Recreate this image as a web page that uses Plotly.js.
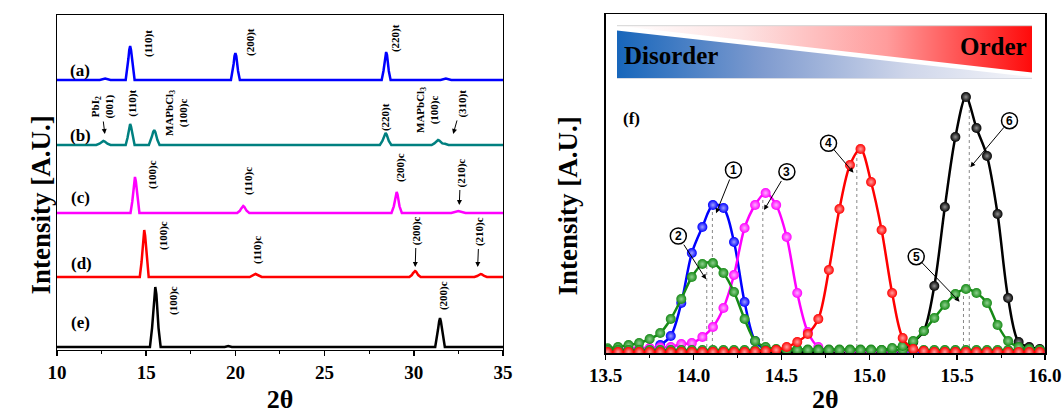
<!DOCTYPE html>
<html><head><meta charset="utf-8">
<script src="https://cdn.plot.ly/plotly-3.0.1.min.js"></script>
<style>html,body{margin:0;padding:0;background:#fff}#chart{width:1063px;height:414px}</style>
</head><body><div id="chart"></div>
<script>
// ---------- Left panel: XRD patterns (intensity above each pattern's own baseline) ----------
const patternLabels = ['(a)', '(b)', '(c)', '(d)', '(e)'];
const patternOffsets = [270, 205, 137, 73, 3];
const patternColors = ['#0000ff', '#008080', '#ff00ff', '#ff0000', '#000000'];

const aX = [10, 12.4, 12.7, 13.0, 13.85, 13.95, 14.0, 14.05, 14.1, 14.15, 14.2, 14.25, 14.35, 19.75, 19.85, 19.9, 19.95, 20.0, 20.05, 20.1, 20.15, 20.25, 28.2, 28.3, 28.35, 28.4, 28.45, 28.5, 28.55, 28.6, 28.7, 31.5, 31.8, 32.1, 35];
const aY = [0, 0, 1.5, 0, 0, 11, 21, 30, 34, 30, 21, 11, 0, 0, 9, 16, 24, 27, 24, 16, 9, 0, 0, 9, 17, 25, 28, 25, 17, 9, 0, 0, 1.5, 0, 0];

const bX = [10, 12.2, 12.38, 12.45, 12.53, 12.6, 12.68, 12.75, 12.83, 13.0, 13.85, 13.95, 14.0, 14.05, 14.1, 14.15, 14.2, 14.25, 14.35, 15.15, 15.27, 15.33, 15.39, 15.45, 15.51, 15.57, 15.63, 15.75, 28.1, 28.24, 28.3, 28.36, 28.42, 28.48, 28.54, 28.6, 28.74, 31.0, 31.15, 31.22, 31.29, 31.36, 31.43, 31.5, 31.6, 31.75, 31.95, 35];
const bY = [0, 0, 1.3, 2.4, 3.5, 4, 3.5, 2.4, 1.3, 0, 0, 7, 13, 18.5, 21, 18.5, 13, 7, 0, 0, 5, 9, 13, 15, 13, 9, 5, 0, 0, 4, 7, 10.5, 12, 10.5, 7, 4, 0, 0, 1.6, 3, 4.4, 5, 4.4, 3, 1.6, 1.2, 0, 0];

const cX = [10, 14.12, 14.22, 14.27, 14.32, 14.37, 14.42, 14.47, 14.52, 14.62, 20.1, 20.25, 20.32, 20.38, 20.44, 20.5, 20.56, 20.63, 20.78, 28.75, 28.88, 28.94, 28.99, 29.04, 29.09, 29.14, 29.2, 29.33, 32.1, 32.5, 32.9, 35];
const cY = [0, 0, 11.5, 22, 31.7, 36, 31.7, 22, 11.5, 0, 0, 2.2, 4.3, 6.2, 7, 6.2, 4.3, 2.2, 0, 0, 6.7, 12.8, 18.5, 21, 18.5, 12.8, 6.7, 0, 0, 2, 0, 0];

const dX = [10, 14.64, 14.74, 14.79, 14.84, 14.89, 14.94, 14.99, 15.04, 15.14, 20.8, 20.95, 21.02, 21.08, 21.13, 21.19, 21.25, 21.32, 21.48, 29.75, 29.89, 29.95, 30.01, 30.07, 30.13, 30.19, 30.25, 30.39, 33.4, 33.55, 33.62, 33.68, 33.75, 33.82, 33.88, 33.95, 34.1, 35];
const dY = [0, 0, 15, 28.7, 41.4, 47, 41.4, 28.7, 15, 0, 0, 1, 1.8, 2.6, 3, 2.6, 1.8, 1, 0, 0, 1.9, 3.7, 5.3, 6, 5.3, 3.7, 1.9, 0, 0, 1, 1.8, 2.6, 3, 2.6, 1.8, 1, 0, 0];

const eX = [10, 15.21, 15.33, 15.39, 15.45, 15.51, 15.57, 15.63, 15.69, 15.81, 19.4, 19.6, 19.8, 31.2, 31.3, 31.36, 31.42, 31.47, 31.52, 31.58, 31.64, 31.74, 35];
const eY = [0, 0, 19.2, 36.6, 52.8, 60, 52.8, 36.6, 19.2, 0, 0, 1, 0, 0, 9.3, 17.7, 25.5, 29, 25.5, 17.7, 9.3, 0, 0];

const patternsX = [aX, bX, cX, dX, eX];
const patternsY = [aY, bY, cY, dY, eY];

// ---------- Right panel: (100) peak region, measured points ----------
const twoTheta = [13.51, 13.57, 13.63, 13.69, 13.75, 13.81, 13.87, 13.93, 13.99, 14.05, 14.11, 14.17, 14.23, 14.29, 14.35, 14.41, 14.47, 14.53, 14.59, 14.65, 14.71, 14.77, 14.83, 14.89, 14.95, 15.01, 15.07, 15.13, 15.19, 15.25, 15.31, 15.37, 15.43, 15.49, 15.55, 15.61, 15.67, 15.73, 15.79, 15.85, 15.91, 15.97];
const int1 = [0, 0, 0.5, 1, 3, 8, 17, 50, 100, 126, 148, 145, 111, 51, 12, 4, 2, 1, 1, 1, 1, 1, 1, 1, 1, 1, 1, 1, 1, 1, 1, 1, 1, 1, 1, 1, 1, 1, 1, 1, 1, 1];
const int2 = [4.7, 6, 8, 10, 14, 20, 34, 54, 76, 89, 90, 80, 61, 34, 12, 6, 4, 4, 4, 3.5, 3.5, 3.5, 3.5, 3.5, 3.5, 3.5, 3, 3, 3, 3, 3, 3, 3, 3, 3, 3, 3, 3, 3, 3, 3, 3];
const int3 = [4, 4, 4.5, 5, 5, 5.5, 6, 9, 10, 16, 26, 45, 78, 125, 148, 160, 148, 116, 60, 21, 6, 3, 2.5, 2, 2, 2, 2, 2, 2, 2, 2, 2, 2, 2, 2, 2, 2, 2, 2, 2, 2, 2];
const int4 = [1, 1, 1, 1, 1, 1, 1, 1, 1, 1, 1, 1, 1, 1, 1.5, 2, 3, 6, 11, 19, 34, 83, 144, 188, 204, 171, 123, 60, 15, 4, 2, 1, 1, 1, 1, 1, 1, 1, 1, 1, 1, 1];
const int5 = [3, 3, 3, 3, 3, 3, 3, 3, 3, 3, 3, 3, 3, 3, 3, 3, 3, 3, 3, 3, 3, 3, 3, 3, 3, 3, 3, 5, 7, 12, 22, 35, 48, 59, 64, 60, 50, 28, 12, 6, 4, 3];
const int6 = [0.5, 0.5, 0.5, 0.5, 0.5, 0.5, 0.5, 0.5, 0.5, 0.5, 0.5, 0.5, 0.5, 0.5, 0.5, 0.5, 0.5, 0.5, 0.5, 0.5, 0.5, 0.5, 0.5, 0.5, 0.5, 0.5, 0.5, 1, 3, 11, 22, 67, 146, 216, 256, 225, 197, 139, 55, 11, 6, 4];
const sampleNames = ['1', '2', '3', '4', '5', '6'];
const sampleInts = [int1, int2, int3, int4, int5, int6];
const sampleColors = ['#0000ff', '#168a16', '#ff00ff', '#ff0000', '#168a16', '#000000'];
const sampleHighlights = ['#a0a0ff', '#8fd08f', '#ffb0ff', '#ffa0a0', '#8fd08f', '#909090'];
const fitCenters = [14.107, 14.075, 14.394, 14.929, 15.536, 15.569];
const fitPeaks = [148, 91, 160, 204, 65, 258];

// ---------- traces ----------
const traces = [];
for (let i = 0; i < patternsX.length; i++) {
  traces.push({
    x: patternsX[i], y: patternsY[i].map(v => v + patternOffsets[i]),
    xaxis: 'x', yaxis: 'y', type: 'scatter', mode: 'lines',
    line: {color: patternColors[i], width: 2.5}, name: patternLabels[i], hoverinfo: 'skip'
  });
}
const drawOrder = [0, 5, 2, 1, 4, 3];
for (const i of drawOrder) {
  traces.push({
    x: twoTheta, y: sampleInts[i], xaxis: 'x2', yaxis: 'y2', type: 'scatter', mode: 'lines+markers',
    line: {color: sampleColors[i], width: 2.5, shape: 'spline', smoothing: 0.9},
    marker: {size: 10, color: sampleColors[i], line: {width: 0},
             gradient: {type: 'radial', color: sampleHighlights[i]}},
    name: sampleNames[i], hoverinfo: 'skip'
  });
}

// ---------- annotations ----------
const F = 'Liberation Serif, Times New Roman, serif';
const ann = [];
function lab(x, y, text, size, ref, angle) {
  ann.push({x: x, y: y, xref: ref[0], yref: ref[1], text: text, showarrow: false, textangle: angle || 0,
            font: {family: F, size: size, color: '#000', weight: 'bold'}});
}
// label whose arrow points from the text to (hx, hy)
function labArrow(x, y, text, size, ref, angle, hx, hy) {
  ann.push({x: hx, y: hy, xref: ref[0], yref: ref[1], axref: ref[0], ayref: ref[1], ax: x, ay: y,
            text: text, showarrow: true, textangle: angle || 0,
            arrowhead: 2, arrowsize: 1, arrowwidth: 1, arrowcolor: '#000', startstandoff: 1,
            font: {family: F, size: size, color: '#000', weight: 'bold'}});
}
const L = ['x', 'y'], R = ['x2', 'y2'];
// pattern letters
lab(11.29, 280, patternLabels[0], 17, L);
lab(11.29, 215, patternLabels[1], 17, L);
lab(11.29, 153, patternLabels[2], 17, L);
lab(11.4, 87, patternLabels[3], 17, L);
lab(11.29, 28, patternLabels[4], 17, L);
// (a)
lab(15.1, 307, '(110)t', 11, L, -90);
lab(20.82, 308, '(200)t', 11, L, -90);
lab(28.95, 312, '(220)t', 11, L, -90);
// (b)
labArrow(12.5, 243, 'PbI<sub>2</sub><br>(001)', 11, L, -90, 12.68, 216);
lab(14.19, 247, '(110)t', 11, L, -90);
lab(16.67, 237, 'MAPbCl<sub>3</sub><br>(100)c', 11, L, -90);
lab(28.39, 233, '(220)t', 11, L, -90);
labArrow(30.74, 240, 'MAPbCl<sub>3</sub><br>(100)c', 11, L, -90, 31.3, 215);
labArrow(32.68, 246, '(310)t', 11, L, -90, 32.21, 216);
// (c)
lab(15.33, 175, '(100)c', 11, L, -90);
lab(20.71, 169, '(110)c', 11, L, -90);
lab(29.23, 182, '(200)c', 11, L, -90);
labArrow(32.62, 177, '(210)c', 11, L, -90, 32.55, 145);
// (d)
lab(15.94, 115, '(100)c', 11, L, -90);
lab(21.21, 100, '(110)c', 11, L, -90);
labArrow(30.14, 119, '(200)c', 11, L, -90, 30.08, 83);
labArrow(33.66, 118, '(210)c', 11, L, -90, 33.58, 83);
// (e)
lab(16.5, 50, '(100)c', 11, L, -90);
lab(31.64, 54, '(200)c', 11, L, -90);

// right panel texts
lab(13.648, 235, '(f)', 17, R);
lab(13.869, 298, 'Disorder', 25, R);
lab(15.706, 306.3, 'Order', 25, R);

// y-axis titles (placed as in the reference, below the axis centre)
ann.push({xref: 'paper', yref: 'paper', x: -0.0334, y: 0.435, text: 'Intensity [A.U.]', textangle: -90, showarrow: false,
  font: {family: F, size: 27, color: '#000', weight: 'bold'}});
ann.push({xref: 'paper', yref: 'paper', x: 0.5172, y: 0.435, text: 'Intensity [A.U.]', textangle: -90, showarrow: false,
  font: {family: F, size: 27, color: '#000', weight: 'bold'}});

const circlePos = [[14.227, 183], [13.913, 117], [14.531, 181.3], [14.768, 209.7], [15.267, 96.3], [15.798, 232.3]];
const arrowHead = [[14.128, 139.7], [14.071, 73.7], [14.401, 143], [14.91, 180.3], [15.514, 51.3], [15.575, 185.7]];
const shapes = [];
for (let i = 0; i < 6; i++) {
  shapes.push({type: 'circle', xref: 'x2', yref: 'y2', xsizemode: 'pixel', ysizemode: 'pixel',
    xanchor: circlePos[i][0], yanchor: circlePos[i][1], x0: -8, x1: 8, y0: -8, y1: 8,
    line: {color: '#000', width: 1.5}, fillcolor: '#fff', layer: 'above'});
  ann.push({x: arrowHead[i][0], y: arrowHead[i][1], xref: 'x2', yref: 'y2', axref: 'x2', ayref: 'y2',
    ax: circlePos[i][0], ay: circlePos[i][1], text: sampleNames[i], showarrow: true,
    arrowhead: 2, arrowsize: 1, arrowwidth: 1, arrowcolor: '#000', startstandoff: 1,
    font: {family: 'Liberation Sans, Arial, sans-serif', size: 12, color: '#000', weight: 'bold'}});
}
for (let i = 0; i < 6; i++) {
  shapes.push({type: 'line', xref: 'x2', yref: 'y2', x0: fitCenters[i], x1: fitCenters[i], y0: 0, y1: fitPeaks[i],
    line: {color: '#888', width: 1, dash: 'dot'}, layer: 'below'});
}

// gradient banner as an SVG image
const svg = '<svg xmlns="http://www.w3.org/2000/svg" width="1063" height="414" viewBox="0 0 1063 414" preserveAspectRatio="none">' +
  '<defs><linearGradient id="gr" x1="0" y1="0" x2="1" y2="0">' +
  '<stop offset="0" stop-color="#ffffff"/><stop offset="0.3" stop-color="#fde3e3"/><stop offset="0.65" stop-color="#ff9c9c"/><stop offset="1" stop-color="#ff0a0a"/></linearGradient>' +
  '<linearGradient id="gb" x1="0" y1="0" x2="1" y2="0">' +
  '<stop offset="0" stop-color="#1766bb"/><stop offset="0.35" stop-color="#7f9bcf"/><stop offset="0.7" stop-color="#cfd6ea"/><stop offset="1" stop-color="#f5f6fa"/></linearGradient></defs>' +
  '<polygon points="617,25.7 1032,25.7 1032,72.5" fill="url(#gr)"/>' +
  '<polygon points="617,30.5 1032,77 1032,78.3 617,78.3" fill="url(#gb)"/>' +
  '<line x1="617" y1="25.7" x2="1032" y2="25.7" stroke="#d4d4d4" stroke-width="1"/>' +
  '<line x1="617" y1="78.5" x2="1032" y2="78.5" stroke="#d8dbe4" stroke-width="1"/>' +
  '</svg>';

const axBase = {showline: true, linewidth: 1.5, linecolor: '#000', mirror: true, showgrid: false, zeroline: false, fixedrange: true};
const layout = Object.assign({
  width: 1063, height: 414,
  margin: {l: 57, r: 18, t: 14, b: 61},
  paper_bgcolor: '#fff', plot_bgcolor: 'rgba(0,0,0,0)',
  showlegend: false,
  font: {family: F, color: '#000'},
  annotations: ann, shapes: shapes,
  images: [{source: 'data:image/svg+xml;charset=utf-8,' + encodeURIComponent(svg), xref: 'paper', yref: 'paper',
    x: -57 / 988, y: 353 / 339, sizex: 1063 / 988, sizey: 414 / 339, xanchor: 'left', yanchor: 'top',
    sizing: 'stretch', layer: 'above'}]
}, {
  xaxis: Object.assign({}, axBase, {domain: [0, 0.4514], range: [10, 35], tick0: 10, dtick: 5, anchor: 'y',
    ticks: 'outside', ticklen: 5, tickwidth: 1.5, tickcolor: '#000',
    minor: {ticks: 'outside', ticklen: 3, tickwidth: 1, tickcolor: '#000', dtick: 2.5},
    tickfont: {family: F, size: 19, weight: 'bold'},
    title: {text: '2θ', font: {family: F, size: 26, weight: 'bold'}, standoff: 9}}),
  yaxis: Object.assign({}, axBase, {domain: [0.00885, 0.99705], range: [0, 335], anchor: 'x',
    showticklabels: false, ticks: ''}),
  xaxis2: Object.assign({}, axBase, {domain: [0.5554, 1], range: [13.5, 16], tick0: 13.5, dtick: 0.5, tickformat: '.1f', anchor: 'y2',
    ticks: 'outside', ticklen: 5, tickwidth: 1.5, tickcolor: '#000',
    minor: {ticks: 'outside', ticklen: 3, tickwidth: 1, tickcolor: '#000', dtick: 0.25},
    tickfont: {family: F, size: 19, weight: 'bold'},
    title: {text: '2θ', font: {family: F, size: 26, weight: 'bold'}, standoff: 9}}),
  yaxis2: Object.assign({}, axBase, {domain: [0, 1], range: [0, 339], anchor: 'x2',
    showticklabels: false, ticks: ''})
});

Plotly.newPlot('chart', traces, layout, {displayModeBar: false, staticPlot: true});
</script></body></html>
